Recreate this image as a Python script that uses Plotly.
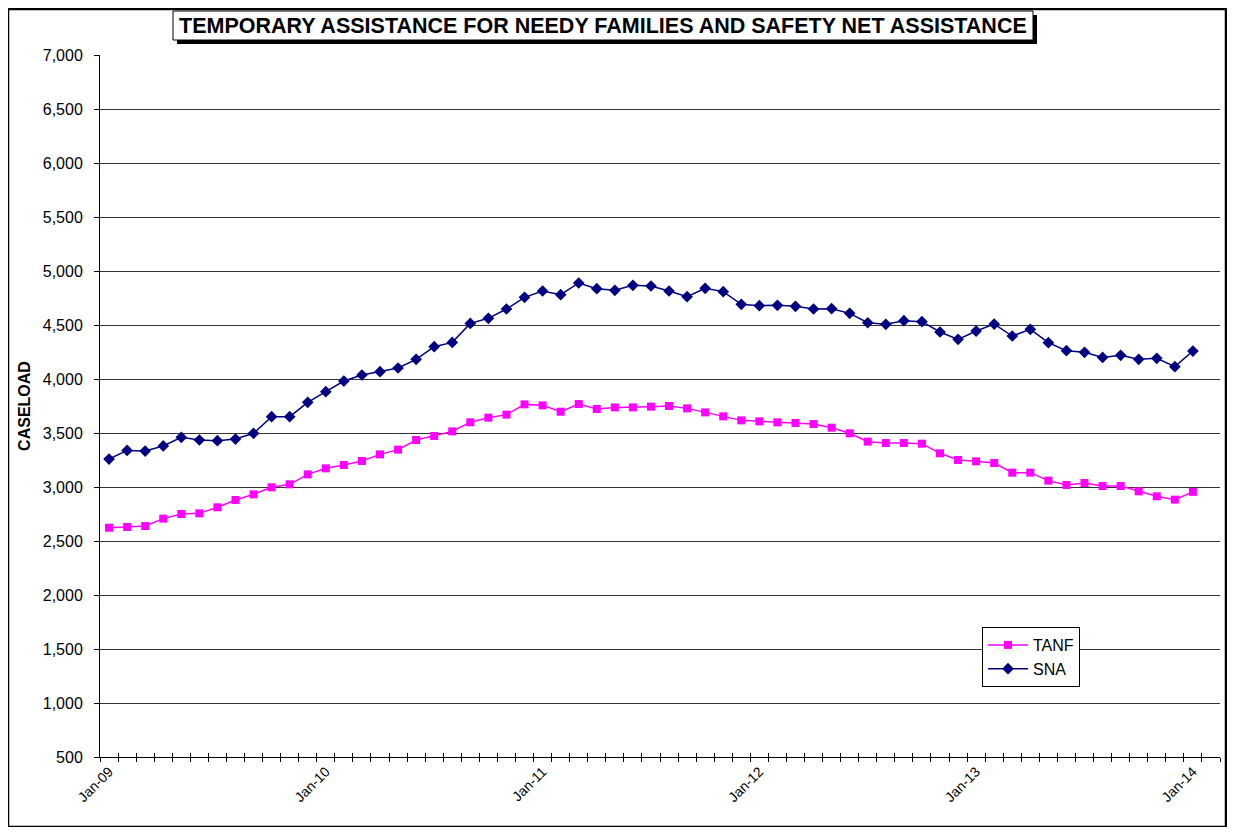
import pandas as pd
import plotly.graph_objects as go

months = [d.strftime("%b-%y") for d in pd.date_range("2009-01-01", "2014-01-01", freq="MS")]

tanf = [2623, 2630, 2639, 2707, 2750, 2756, 2812, 2880, 2932, 2997, 3025, 3117,
        3173, 3204, 3241, 3302, 3346, 3435, 3472, 3515, 3599, 3642, 3670, 3765,
        3756, 3697, 3768, 3722, 3737, 3737, 3744, 3750, 3728, 3691, 3654, 3617,
        3608, 3599, 3593, 3583, 3549, 3497, 3420, 3407, 3407, 3401, 3312, 3250,
        3238, 3222, 3133, 3133, 3059, 3019, 3037, 3009, 3009, 2960, 2914, 2883,
        2955]

sna = [3259, 3339, 3333, 3380, 3460, 3435, 3429, 3444, 3497, 3651, 3651, 3784,
       3883, 3981, 4037, 4068, 4102, 4182, 4299, 4339, 4515, 4562, 4648, 4756,
       4815, 4781, 4889, 4836, 4821, 4867, 4861, 4815, 4762, 4840, 4809, 4691,
       4679, 4682, 4673, 4648, 4651, 4608, 4521, 4506, 4540, 4531, 4435, 4367,
       4444, 4509, 4398, 4460, 4336, 4262, 4247, 4200, 4219, 4182, 4191, 4114,
       4259]

title_text = "TEMPORARY ASSISTANCE FOR NEEDY FAMILIES AND SAFETY NET ASSISTANCE"
y_title = "CASELOAD"

idx = list(range(len(months)))
label_idx = [i for i, m in enumerate(months) if m.startswith("Jan")]
label_txt = [months[i] for i in label_idx]

fig = go.Figure()
fig.add_trace(go.Scatter(
    x=idx, y=tanf, name="TANF", mode="lines+markers",
    line=dict(color="#FF00FF", width=1.5),
    marker=dict(symbol="square", size=8, color="#FF00FF"),
))
fig.add_trace(go.Scatter(
    x=idx, y=sna, name="SNA", mode="lines+markers",
    line=dict(color="#000080", width=1.5),
    marker=dict(symbol="diamond", size=9, color="#000080"),
))

OFF = 8  # page body margin
W, H = 1219, 819
# plot area in page pixels: x 100..1220, y 55..757
L = 100 - OFF
R = W - (1220 - OFF)
T = 55 - OFF
B = H - (757 - OFF)
pw, ph = W - L - R, H - T - B

def px_x(p):
    return (p - OFF - L) / pw

def px_y(p):
    return (H - B - (p - OFF)) / ph

fig.update_layout(
    width=W, height=H,
    margin=dict(l=L, r=R, t=T, b=B),
    paper_bgcolor="white", plot_bgcolor="white",
    font=dict(family="Arial, Liberation Sans, sans-serif", size=16, color="black"),
    showlegend=True,
    legend=dict(
        x=px_x(982), y=px_y(627), xanchor="left", yanchor="top",
        bgcolor="white", bordercolor="black", borderwidth=1,
        font=dict(size=16), tracegroupgap=2, itemwidth=40,
    ),
    xaxis=dict(
        range=[-0.5, 61.5], showgrid=False, zeroline=False,
        showline=True, linecolor="black", linewidth=1,
        tickmode="array", tickvals=label_idx, ticktext=label_txt,
        tickangle=-45, ticks="", tickfont=dict(size=14),
        minor=dict(tick0=-0.5, dtick=1, ticks="outside", ticklen=4,
                   tickcolor="black", showgrid=False),
    ),
    xaxis2=dict(
        range=[-0.5, 61.5], overlaying="x", side="bottom", anchor="y",
        showgrid=False, zeroline=False, showline=False, showticklabels=False,
        tickmode="linear", tick0=-0.5, dtick=1, ticks="inside", ticklen=4,
        tickcolor="black",
    ),
    yaxis=dict(
        range=[500, 7000], dtick=500, tickformat=",",
        showgrid=True, gridcolor="#333333", gridwidth=1, zeroline=False,
        showline=True, linecolor="black", linewidth=1,
        ticks="outside", ticklen=5, tickcolor="black", ticklabelstandoff=8,
        tickfont=dict(size=16),
        title=dict(text="<b>" + y_title + "</b>", font=dict(size=16), standoff=8),
    ),
    shapes=[
        dict(type="rect", xref="paper", yref="paper",
             x0=px_x(8), x1=px_x(1226), y0=px_y(827), y1=px_y(9),
             line=dict(color="black", width=2.5), layer="below"),
        dict(type="rect", xref="paper", yref="paper",
             x0=px_x(177), x1=px_x(1037), y0=px_y(44), y1=px_y(15),
             fillcolor="black", line=dict(color="black", width=0), layer="above"),
        dict(type="rect", xref="paper", yref="paper",
             x0=px_x(173), x1=px_x(1033), y0=px_y(40), y1=px_y(11),
             fillcolor="white", line=dict(color="black", width=1), layer="above"),
    ],
    annotations=[
        dict(text="<b>" + title_text + "</b>", xref="paper", yref="paper",
             x=px_x(603), y=px_y(26), xanchor="center", yanchor="middle",
             showarrow=False, font=dict(size=21.5, color="black")),
    ],
)
# invisible point on xaxis2 so the inner tick marks are drawn
fig.add_trace(go.Scatter(x=[idx[0]], y=[tanf[0]], xaxis="x2", mode="markers",
                         marker=dict(opacity=0), showlegend=False, hoverinfo="skip"))

fig.write_html("out.html")
